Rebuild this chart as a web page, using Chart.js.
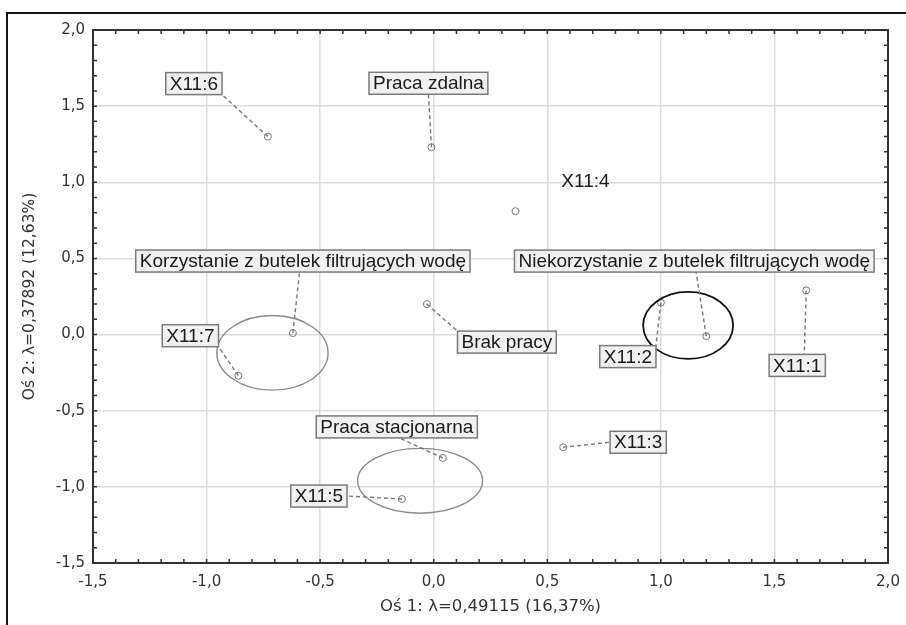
<!DOCTYPE html>
<html>
<head>
<meta charset="utf-8">
<script src="https://cdn.jsdelivr.net/npm/chart.js@4/dist/chart.umd.min.js"></script>
<style>
  body { margin: 0; background: #fff; overflow: hidden; }
  #frame { position: absolute; left: 6px; top: 12px; width: 1000px; height: 1000px; border: 2px solid #111; }
  #wrap { position: absolute; left: 0; top: 0; width: 906px; height: 625px; }
</style>
</head>
<body>
<div id="frame"></div>
<div id="wrap"><canvas id="chart" width="906" height="625"></canvas></div>
<script>
// points (coordinates on both axes)
const names = ["X11:1", "X11:2", "X11:3", "X11:4", "X11:5", "X11:6", "X11:7",
    "Praca zdalna", "Praca stacjonarna", "Brak pracy",
    "Korzystanie z butelek filtrujących wodę", "Niekorzystanie z butelek filtrujących wodę"];
const axis1 = [1.64, 1.00, 0.57, 0.36, -0.14, -0.73, -0.86, -0.01, 0.04, -0.03, -0.62, 1.20];
const axis2 = [0.29, 0.21, -0.74, 0.81, -1.08, 1.30, -0.27, 1.23, -0.81, 0.20, 0.01, -0.01];

// ellipses around groups (centre and semi axes in axis units)
const ellCx = [-0.71, -0.06, 1.12];
const ellCy = [-0.12, -0.96, 0.06];
const ellRx = [0.245, 0.275, 0.198];
const ellRy = [0.245, 0.213, 0.22];

const xTicks = [-1.5, -1.0, -0.5, 0.0, 0.5, 1.0, 1.5, 2.0];
const yTicks = [-1.5, -1.0, -0.5, 0.0, 0.5, 1.0, 1.5, 2.0];
const xTitle = "Oś 1: λ=0,49115 (16,37%)";
const yTitle = "Oś 2: λ=0,37892 (12,63%)";

// label placement: box centre offset from point (px), where the leader line meets the box
const labelOff = [[-9, 75], [-33, 54], [75, -5], [70, -30], [-83, -3], [-74, -53], [-48, -40],
    [-3, -64], [-46, -31], [80, 38], [10, -72], [-12, -75]];
const attach = [[0.25, -1], [1, -1], [-1, 0], null, [1, 0], [1, 1], [1, 1],
    [0, 1], [0.03, 1], [-1, -1], [-0.02, 1], [0.01, 1]];
const ellColors = ["#8a8a8a", "#8a8a8a", "#111"];

const fmt = v => v.toFixed(1).replace(".", ",");

const extras = {
    id: "extras",
    afterDatasetsDraw(c) {
        const ctx = c.ctx;
        const xs = c.scales.x, ys = c.scales.y;
        const a = c.chartArea;
        ctx.save();
        // ellipses
        for (let i = 0; i < ellCx.length; i++) {
            const cx = xs.getPixelForValue(ellCx[i]);
            const cy = ys.getPixelForValue(ellCy[i]);
            const rx = xs.getPixelForValue(ellCx[i] + ellRx[i]) - cx;
            const ry = cy - ys.getPixelForValue(ellCy[i] + ellRy[i]);
            ctx.beginPath();
            ctx.ellipse(cx, cy, rx, ry, 0, 0, Math.PI * 2);
            ctx.strokeStyle = ellColors[i];
            ctx.lineWidth = i == 2 ? 1.8 : 1.4;
            ctx.stroke();
        }
        // labels
        ctx.font = "19px 'Liberation Sans', Arial, sans-serif";
        ctx.textAlign = "center";
        ctx.textBaseline = "middle";
        for (let i = 0; i < names.length; i++) {
            const px = xs.getPixelForValue(axis1[i]);
            const py = ys.getPixelForValue(axis2[i]);
            const bx = px + labelOff[i][0];
            const by = py + labelOff[i][1];
            const hw = ctx.measureText(names[i]).width / 2 + 4;
            const hh = 11;
            if (attach[i]) {
                ctx.beginPath();
                ctx.setLineDash([4, 3]);
                ctx.strokeStyle = "#777";
                ctx.lineWidth = 1.4;
                ctx.moveTo(px, py);
                ctx.lineTo(bx + attach[i][0] * hw, by + attach[i][1] * hh);
                ctx.stroke();
                ctx.setLineDash([]);
                ctx.fillStyle = "#f1f1f1";
                ctx.fillRect(bx - hw, by - hh, hw * 2, hh * 2);
                ctx.strokeStyle = "#7a7a7a";
                ctx.lineWidth = 1.5;
                ctx.strokeRect(bx - hw, by - hh, hw * 2, hh * 2);
            }
            ctx.fillStyle = "#1a1a1a";
            ctx.fillText(names[i], bx, by + 1);
        }
        // plot frame with small inner ticks
        ctx.strokeStyle = "#333";
        ctx.lineWidth = 2;
        ctx.strokeRect(a.left, a.top, a.right - a.left, a.bottom - a.top);
        ctx.lineWidth = 1.5;
        ctx.beginPath();
        for (let k = 0; k <= 35; k++) {
            const v = -1.5 + k * 0.1;
            const x = xs.getPixelForValue(v);
            const y = ys.getPixelForValue(v);
            ctx.moveTo(x, a.bottom); ctx.lineTo(x, a.bottom - 4);
            ctx.moveTo(x, a.top); ctx.lineTo(x, a.top + 4);
            ctx.moveTo(a.left, y); ctx.lineTo(a.left + 4, y);
            ctx.moveTo(a.right, y); ctx.lineTo(a.right - 4, y);
        }
        ctx.stroke();
        ctx.restore();
    }
};

new Chart(document.getElementById("chart"), {
    type: "scatter",
    data: {
        datasets: [{
            data: axis1.map((x, i) => ({ x: x, y: axis2[i] })),
            pointStyle: "circle",
            pointRadius: 3.5,
            pointBorderWidth: 1,
            borderColor: "#777",
            backgroundColor: "rgba(0,0,0,0)"
        }]
    },
    options: {
        responsive: false,
        animation: false,
        devicePixelRatio: 1,
        layout: { padding: { top: 30, right: 18, left: 0, bottom: 0 } },
        plugins: { legend: { display: false }, tooltip: { enabled: false } },
        scales: {
            x: {
                min: xTicks[0], max: xTicks[xTicks.length - 1],
                afterBuildTicks: s => { s.ticks = xTicks.map(v => ({ value: v })); },
                afterFit: s => { s.height = 62; s.paddingLeft = 0; s.paddingRight = 0; },
                ticks: { callback: fmt, color: "#333", padding: 10, maxRotation: 0,
                    font: { family: "'DejaVu Sans', sans-serif", size: 15 } },
                grid: { color: "#dcdcdc", lineWidth: 1.5, drawTicks: false },
                border: { display: false },
                title: { display: true, text: xTitle, color: "#333",
                    font: { family: "'DejaVu Sans', sans-serif", size: 16.5 },
                    padding: { top: 0, bottom: 8 } }
            },
            y: {
                min: yTicks[0], max: yTicks[yTicks.length - 1],
                afterBuildTicks: s => { s.ticks = yTicks.map(v => ({ value: v })); },
                afterFit: s => { s.width = 93; s.paddingTop = 0; s.paddingBottom = 0; },
                ticks: { callback: fmt, color: "#333", padding: 8,
                    font: { family: "'DejaVu Sans', sans-serif", size: 15 } },
                grid: { color: "#dcdcdc", lineWidth: 1.5, drawTicks: false },
                border: { display: false },
                title: { display: true, text: yTitle, color: "#333",
                    font: { family: "'DejaVu Sans', sans-serif", size: 15.5 },
                    padding: { top: 21, bottom: 0 } }
            }
        }
    },
    plugins: [extras]
});
</script>
</body>
</html>
